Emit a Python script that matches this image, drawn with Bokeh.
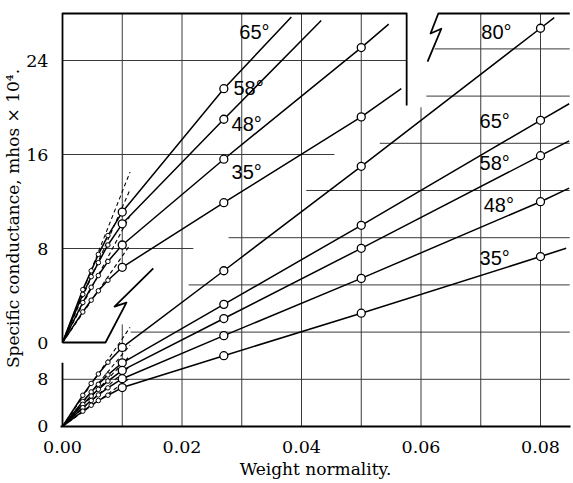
from bokeh.plotting import figure
from bokeh.models import Range1d, FixedTicker, NumeralTickFormatter
from bokeh.core.properties import value
from bokeh.embed import file_html
from bokeh.resources import INLINE

# ---------------- data ----------------
# weight normality of the measured solutions
x_dilute = [0.0034, 0.0048, 0.0060, 0.0076]
x_main = [0.010, 0.027, 0.050, 0.080]

# lower chart (all temperatures), specific conductance in mhos x 10^4
low_temps = ["80°", "65°", "58°", "48°", "35°"]
low80_dilute = [5.3, 7.3, 8.9, 10.9]
low80 = [13.4, 26.4, 44.1, 67.5]
low65_dilute = [4.25, 5.85, 7.15, 8.75]
low65 = [10.8, 20.7, 34.1, 51.9]
low58_dilute = [3.75, 5.15, 6.3, 7.7]
low58 = [9.5, 18.3, 30.2, 45.9]
low48_dilute = [3.2, 4.4, 5.35, 6.55]
low48 = [8.1, 15.4, 25.1, 38.1]
low35_dilute = [2.6, 3.6, 4.4, 5.3]
low35 = [6.6, 12.0, 19.2, 28.8]
# where each drawn curve leaves the chart
low_end_x = [0.0823, 0.0848, 0.0848, 0.0848, 0.0843]
low_end_y = [69.3, 54.7, 48.4, 40.4, 30.2]
# dashed limiting-slope lines
x_dashed_end = 0.0113
low_dashed_end = [16.8, 13.8, 12.0, 10.2, 8.2]

# upper (enlarged) chart
up_temps = ["65°", "58°", "48°", "35°"]
up65_dilute = [4.5, 6.1, 7.5, 9.1]
up65 = [11.1, 21.6]
up58_dilute = [4.1, 5.6, 6.8, 8.3]
up58 = [10.1, 19.0]
up48_dilute = [3.4, 4.7, 5.7, 6.9]
up48 = [8.3, 15.6, 25.1]
up35_dilute = [2.6, 3.6, 4.4, 5.3]
up35 = [6.4, 11.9, 19.2]
up_end_x = [0.0383, 0.0433, 0.0546, 0.0567]
up_end_y = [27.7, 27.4, 27.1, 21.6]
up_dashed_end = [14.5, 13.0, 10.8, 8.3]

# axis ticks
x_ticks = [0.0, 0.02, 0.04, 0.06, 0.08]
up_ticks = [0, 8, 16, 24]
low_ticks = [0, 8]

# ---------------- layout ----------------
FW, FH = 510, 416
PX_PER_X = 5975.0        # pixels per unit normality
UP_PX = 11.75            # pixels per unit, upper chart
LOW_PX = 5.9             # pixels per unit, lower chart
ZERO_SHIFT = 84.0        # upper zero lies this many px above lower zero
x0 = -2.0 / PX_PER_X
x1 = x0 + FW / PX_PER_X
u0 = -ZERO_SHIFT / UP_PX
u1 = u0 + FH / UP_PX
l1 = FH / LOW_PX
XE = 0.0849


def low_to_up(v):
    return (v * LOW_PX - ZERO_SHIFT) / UP_PX


p = figure(frame_width=FW, frame_height=FH,
           x_range=Range1d(x0, x1), y_range=Range1d(u0, u1),
           output_backend="svg", toolbar_location=None,
           min_border_left=49, min_border_right=1,
           min_border_top=10, min_border_bottom=49)
p.extra_y_ranges = {"low": Range1d(0, l1)}
p.grid.visible = False
p.outline_line_color = None

SERIF = "DejaVu Serif"
# x axis
xa = p.xaxis[0]
xa.ticker = FixedTicker(ticks=x_ticks)
xa.formatter = NumeralTickFormatter(format="0.00")
xa.axis_line_color = "black"
xa.axis_line_width = 2
xa.major_tick_line_color = None
xa.minor_tick_line_color = None
xa.major_label_standoff = 8
xa.major_label_text_font = SERIF
xa.major_label_text_font_size = "17.5px"
xa.major_label_text_color = "black"
xa.axis_label = "Weight normality."
xa.axis_label_text_font = SERIF
xa.axis_label_text_font_size = "17px"
xa.axis_label_text_font_style = "normal"
xa.axis_label_text_color = "black"
xa.axis_label_standoff = 3

# y axis (one axis carrying both scales)
ya = p.yaxis[0]
low_tick_pos = [low_to_up(v) + (0.001 if v == 0 else 0) for v in low_ticks]
all_ticks = low_tick_pos + [float(v) for v in up_ticks]
ya.ticker = FixedTicker(ticks=all_ticks)
overrides = {pos: str(v) for pos, v in zip(low_tick_pos, low_ticks)}
overrides.update({float(v): str(v) for v in up_ticks})
ya.major_label_overrides = overrides
ya.axis_line_color = None
ya.major_tick_line_color = None
ya.minor_tick_line_color = None
ya.major_label_standoff = 6
ya.major_label_text_font = SERIF
ya.major_label_text_font_size = "17.5px"
ya.major_label_text_color = "black"
ya.axis_label = "Specific conductance, mhos × 10⁴."
ya.axis_label_text_font = SERIF
ya.axis_label_text_font_size = "17px"
ya.axis_label_text_font_style = "normal"
ya.axis_label_text_color = "black"
ya.axis_label_standoff = 0

GRID = dict(line_color="#3a3a3a", line_width=1)
FRAME = dict(line_color="black", line_width=1.8, line_join="round")

# --- grid lines: vertical ---
p.segment(x0=[0.01, 0.02, 0.03, 0.04, 0.05], y0=[6.1, u0, u0, u0, u0],
          x1=[0.01, 0.02, 0.03, 0.04, 0.05], y1=[28.0] * 5, **GRID)
p.segment(x0=[0.01, 0.06, 0.07, 0.08], y0=[0, 0, 0, 0],
          x1=[0.01, 0.06, 0.07, 0.08], y1=[17.3, 54.1, 70.0, 70.0],
          y_range_name="low", **GRID)
# --- grid lines: horizontal, upper chart ---
p.segment(x0=[0, 0, 0], y0=[8, 16, 24], x1=[0.0219, 0.0455, 0.0576],
          y1=[8, 16, 24], **GRID)
# --- grid lines: horizontal, lower chart (stepped) ---
low_grid = [8, 16, 24, 32, 40, 48, 56, 64]
low_grid_start = [0.0, 0.0114, 0.0211, 0.0278, 0.0408, 0.0531, 0.0609, 0.0623]
p.segment(x0=low_grid_start, y0=low_grid, x1=[XE] * len(low_grid), y1=low_grid,
          y_range_name="low", **GRID)

# --- frames and break marks ---
p.line([0, 0, 0.0576, 0.0576], [0, 28.0, 28.0, 20.17], **FRAME)
p.line([0, 0], [0, 10.8], y_range_name="low", **FRAME)
p.line([0, 0.0072, 0.0107, 0.0087, 0.0152], [0, 0, 3.4, 3.06, 6.3], **FRAME)
p.line([0.0611, 0.0634, 0.0616, 0.0629, XE], [23.9, 26.7, 26.3, 28.0, 28.0], **FRAME)

LINE = dict(line_color="black", line_width=1.5, line_join="round")
DASH = dict(line_color="black", line_width=1.1, line_dash="4 3")
BIG = dict(marker="circle", size=8, fill_color="white", line_color="black", line_width=1.3)
SMALL = dict(marker="circle", size=4.5, fill_color="white", line_color="black", line_width=1)

# --- lower chart curves ---
low_dil = [low80_dilute, low65_dilute, low58_dilute, low48_dilute, low35_dilute]
low_main = [low80, low65, low58, low48, low35]
for i in range(5):
    p.line([0, x_dashed_end], [0, low_dashed_end[i]], y_range_name="low", **DASH)
for i in range(5):
    xs = [0] + x_dilute + x_main + [low_end_x[i]]
    ys = [0] + low_dil[i] + low_main[i] + [low_end_y[i]]
    p.line(xs, ys, y_range_name="low", **LINE)
for i in range(5):
    p.scatter(x_dilute, low_dil[i], y_range_name="low", **SMALL)
    p.scatter(x_main, low_main[i], y_range_name="low", **BIG)

# --- upper chart curves ---
up_dil = [up65_dilute, up58_dilute, up48_dilute, up35_dilute]
up_main = [up65, up58, up48, up35]
for i in range(4):
    p.line([0, x_dashed_end], [0, up_dashed_end[i]], **DASH)
for i in range(4):
    n = len(up_main[i])
    xs = [0] + x_dilute + x_main[:n] + [up_end_x[i]]
    ys = [0] + up_dil[i] + up_main[i] + [up_end_y[i]]
    p.line(xs, ys, **LINE)
for i in range(4):
    n = len(up_main[i])
    p.scatter(x_dilute, up_dil[i], **SMALL)
    p.scatter(x_main[:n], up_main[i], **BIG)

# --- temperature labels ---
LAB = dict(text_font=value("Liberation Sans"), text_font_size="20px",
           text_color="black", text_align="left", text_baseline="middle")
p.text(x=[0.0296, 0.0286, 0.0283, 0.0283], y=[26.4, 21.7, 18.6, 14.5],
       text=up_temps, **LAB)
p.text(x=[0.0701, 0.0698, 0.0698, 0.0705, 0.0698], y=[66.8, 51.7, 44.7, 37.6, 28.5],
       text=low_temps, y_range_name="low", **LAB)

open("out.html", "w").write(file_html(p, INLINE))
